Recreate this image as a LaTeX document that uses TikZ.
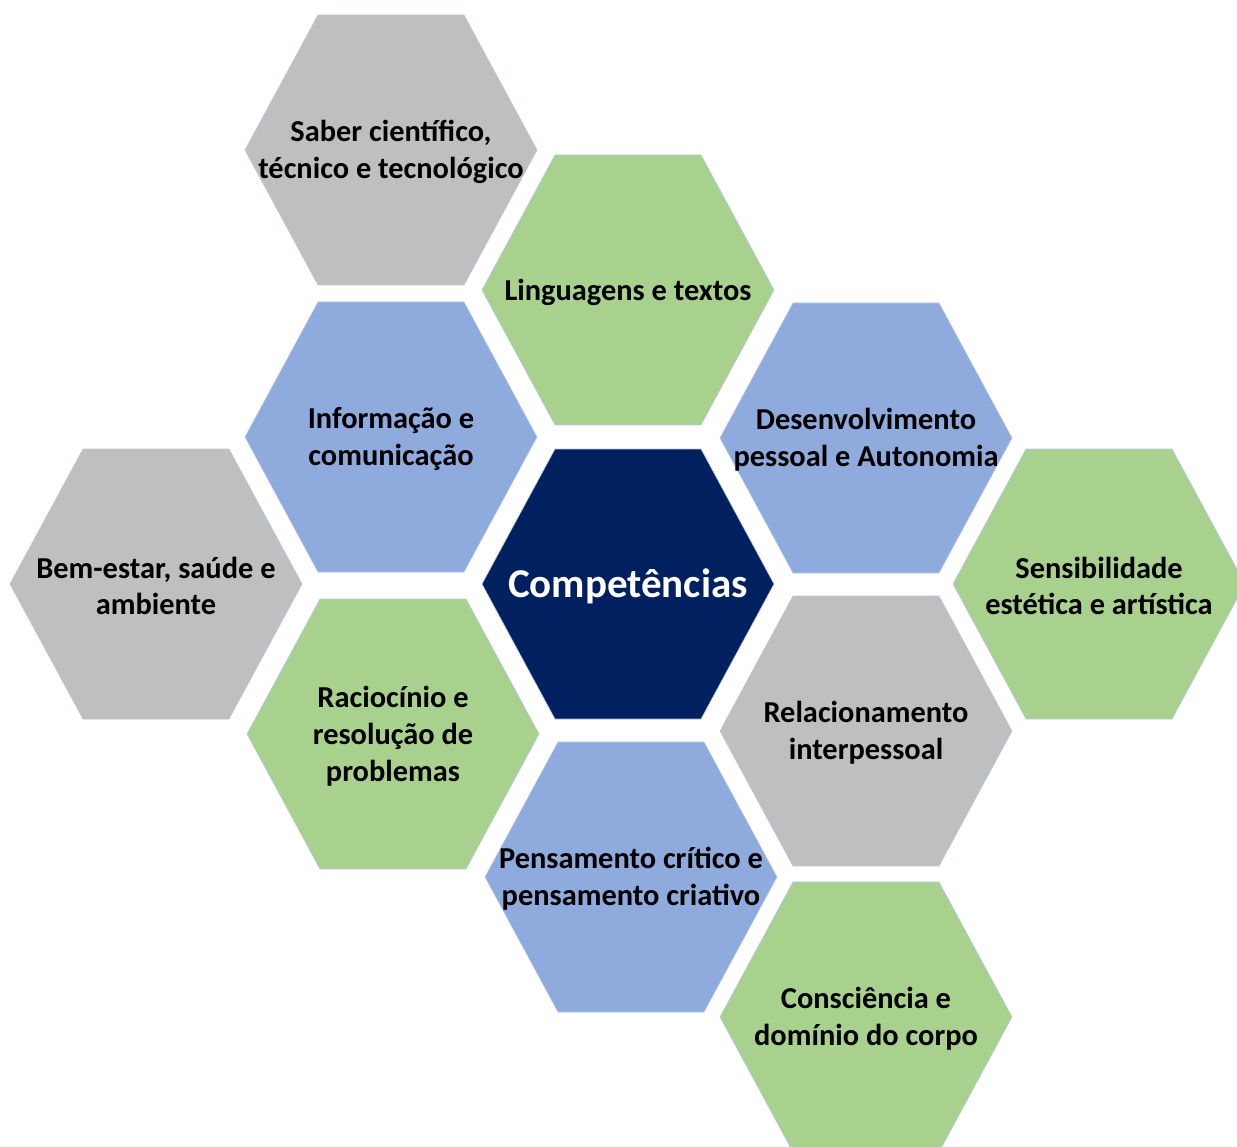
\documentclass[tikz,border=0pt]{standalone}
\usepackage{fontspec}
\setmainfont{Carlito}

\definecolor{cinza}{HTML}{BFBFBF}
\definecolor{verde}{HTML}{A9D18E}
\definecolor{azul}{HTML}{8FAADC}
\definecolor{marinho}{HTML}{002060}
\definecolor{contorno}{HTML}{B4C7E7}

\tikzset{
  hexa/.style={draw=contorno, line width=0.6pt},
  rotulo/.style={align=center, inner sep=0pt, yshift=-2pt, font=\bfseries\fontsize{30.4}{36.8}\selectfont},
  centro/.style={text=white, font=\bfseries\fontsize{41}{49}\selectfont},
}

% hexagono: [estilo do texto] nome, x, y, cor, texto
\newcommand{\hexagono}[6][]{%
  \begin{scope}[shift={(#3,#4)}]
    \draw[hexa, fill=#5] (-146,0) -- (-73,-135) -- (73,-135) -- (146,0) -- (73,135) -- (-73,135) -- cycle;
    \node[rotulo, #1] (#2) at (0,0) {#6};
  \end{scope}
}

\begin{document}
\begin{tikzpicture}[x=1pt, y=-1pt]
        \clip (0,0) rectangle (1237,1147);

        \hexagono{saber}{391}{150}{cinza}{Saber científico,\\técnico e tecnológico}
        \hexagono{linguagens}{628}{290}{verde}{Linguagens e textos}
        \hexagono{informacao}{391}{437}{azul}{Informação e\\comunicação}
        \hexagono{desenvolvimento}{866}{438}{azul}{Desenvolvimento\\pessoal e Autonomia}
        \hexagono{bemestar}{156}{584}{cinza}{Bem-estar, saúde e\\ambiente}
        \hexagono[centro]{competencias}{628}{584}{marinho}{Competências}
        \hexagono{sensibilidade}{1099}{584}{verde}{Sensibilidade\\estética e artística}
        \hexagono{raciocinio}{393}{734}{verde}{Raciocínio e\\resolução de\\problemas}
        \hexagono{relacionamento}{866}{731}{cinza}{Relacionamento\\interpessoal}
        \hexagono{pensamento}{631}{877}{azul}{Pensamento crítico e\\pensamento criativo}
        \hexagono{consciencia}{866}{1017}{verde}{Consciência e\\domínio do corpo}

    \end{tikzpicture}
\end{document}
